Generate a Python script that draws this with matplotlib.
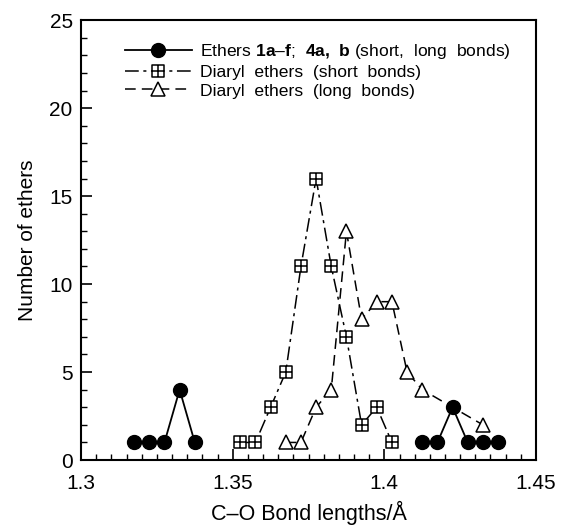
import matplotlib
matplotlib.use("Agg")
import matplotlib.pyplot as plt
from matplotlib.path import Path
from matplotlib.ticker import MultipleLocator, FuncFormatter

plt.rcParams['font.family'] = ['Liberation Sans', 'DejaVu Sans']
plt.rcParams['mathtext.fontset'] = 'custom'
plt.rcParams['mathtext.rm'] = 'Liberation Sans'
plt.rcParams['mathtext.bf'] = 'Liberation Sans:bold'

# Ethers 1a-f; 4a,b (two separate groups)
ether_x1 = [1.3175, 1.3225, 1.3275, 1.3325, 1.3375]
ether_y1 = [1, 1, 1, 4, 1]
ether_x2 = [1.4125, 1.4175, 1.4225, 1.4275, 1.4325, 1.4375]
ether_y2 = [1, 1, 3, 1, 1, 1]

# Diaryl ethers (short bonds)
short_x = [1.3525, 1.3575, 1.3625, 1.3675, 1.3725, 1.3775, 1.3825, 1.3875, 1.3925, 1.3975, 1.4025]
short_y = [1, 1, 3, 5, 11, 16, 11, 7, 2, 3, 1]

# Diaryl ethers (long bonds)
long_x = [1.3675, 1.3725, 1.3775, 1.3825, 1.3875, 1.3925, 1.3975, 1.4025, 1.4075, 1.4125, 1.4325]
long_y = [1, 1, 3, 4, 13, 8, 9, 9, 5, 4, 2]

labels = [r"Ethers $\mathbf{1a}$–$\mathbf{f}$;  $\mathbf{4a,\ b}$ (short,  long  bonds)",
          "Diaryl  ethers  (short  bonds)",
          "Diaryl  ethers  (long  bonds)"]

# square with cross marker
sq_verts = [(-1, -1), (1, -1), (1, 1), (-1, 1), (-1, -1),
            (0, -1), (0, 1), (-1, 0), (1, 0)]
sq_codes = [Path.MOVETO, Path.LINETO, Path.LINETO, Path.LINETO, Path.CLOSEPOLY,
            Path.MOVETO, Path.LINETO, Path.MOVETO, Path.LINETO]
sq_marker = Path(sq_verts, sq_codes)

fig = plt.figure(figsize=(5.63, 5.30), dpi=100)
ax = fig.add_axes([0.144, 0.132, 0.808, 0.830])

l1, = ax.plot(ether_x1, ether_y1, color='black', lw=1.3, marker='o', ms=10,
              mfc='black', mec='black', zorder=4, label=labels[0])
ax.plot(ether_x2, ether_y2, color='black', lw=1.3, marker='o', ms=10,
        mfc='black', mec='black', zorder=4)
l2, = ax.plot(short_x, short_y, color='black', lw=1.1, ls=(0, (9, 3, 2, 3)),
              marker=sq_marker, ms=9, mfc='white', mec='black', mew=1.1,
              zorder=3, label=labels[1])
l3, = ax.plot(long_x, long_y, color='black', lw=1.1, ls=(0, (7, 4)),
              marker='^', ms=10, mfc='white', mec='black', mew=1.1,
              zorder=3, label=labels[2])

ax.set_xlim(1.3, 1.45)
ax.set_ylim(0, 25)
ax.xaxis.set_major_locator(MultipleLocator(0.05))
ax.xaxis.set_minor_locator(MultipleLocator(0.005))
ax.yaxis.set_major_locator(MultipleLocator(5))
ax.yaxis.set_minor_locator(MultipleLocator(1))
ax.xaxis.set_major_formatter(FuncFormatter(
    lambda v, p: ('%.2f' % v).rstrip('0').rstrip('.')))
ax.tick_params(which='major', direction='in', length=8, width=1.2, labelsize=15,
               top=False, right=False)
ax.tick_params(axis='x', which='major', pad=10)
ax.tick_params(axis='y', which='major', pad=6)
ax.tick_params(which='minor', direction='in', length=4, width=1.0, top=False, right=False)
for s in ax.spines.values():
    s.set_linewidth(1.5)

ax.set_xlabel("C–O Bond lengths/Å", fontsize=15.5, labelpad=6)
ax.set_ylabel("Number of ethers", fontsize=15, labelpad=9)

leg = ax.legend(handles=[l1, l2, l3], loc='upper left', bbox_to_anchor=(0.07, 0.978),
                frameon=False, fontsize=12.6, handlelength=3.8, handletextpad=0.45,
                labelspacing=0.2, borderpad=0.2)

fig.savefig("out.png", dpi=100)
